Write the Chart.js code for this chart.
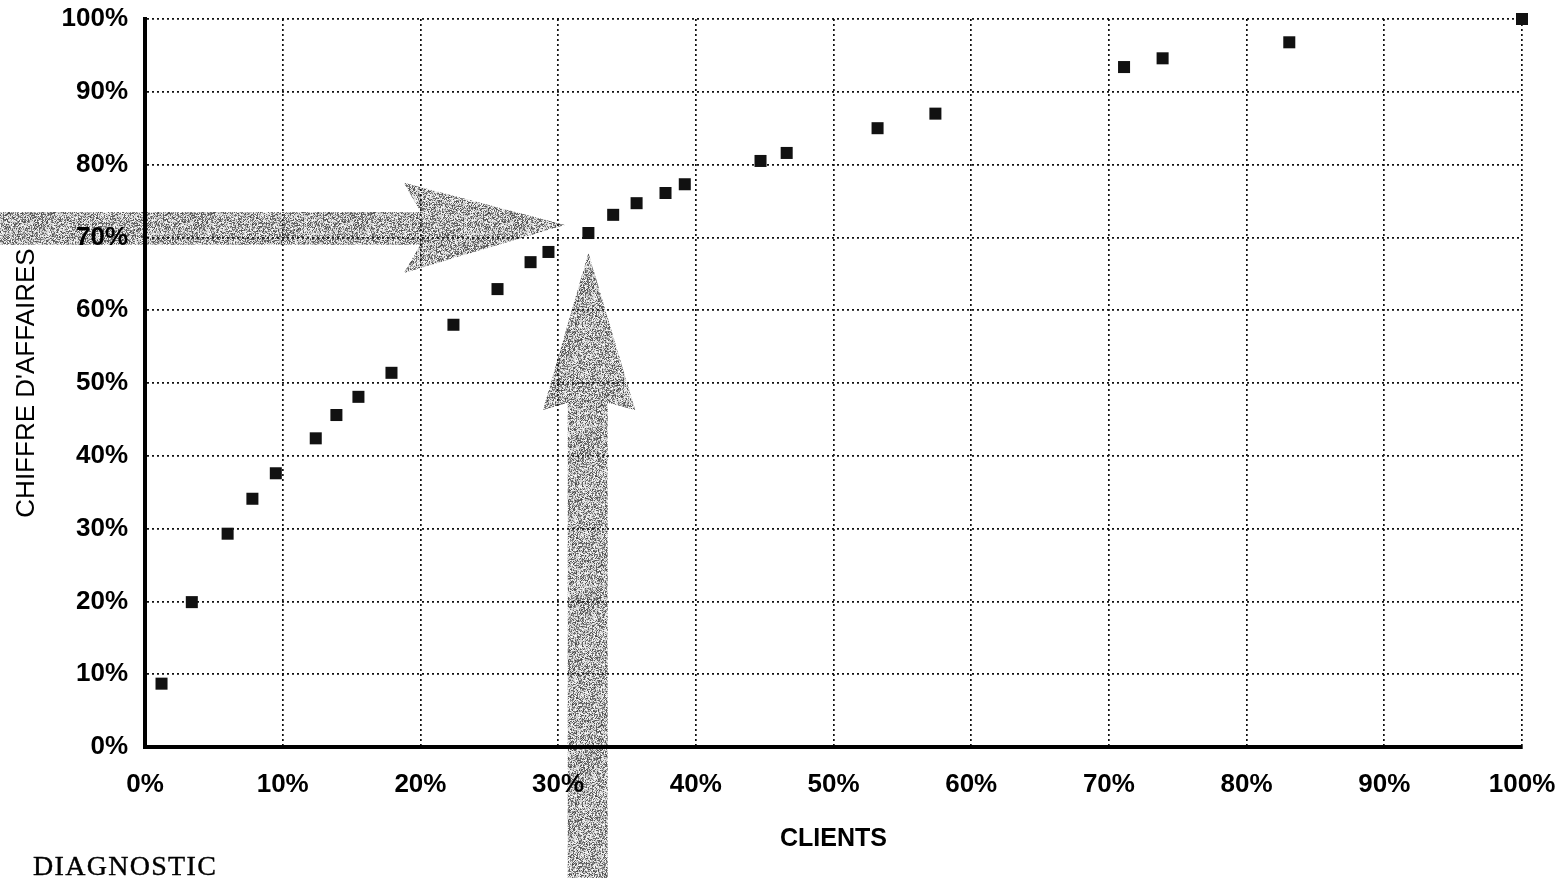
<!DOCTYPE html>
<html>
<head>
<meta charset="utf-8">
<script src="https://cdn.jsdelivr.net/npm/chart.js@4/dist/chart.umd.min.js"></script>
<style>
  body { margin: 0; background: #fff; }
  #wrap { position: relative; width: 1566px; height: 878px; }
  #diag {
    position: absolute; left: 33px; top: 850px;
    font-family: "Liberation Serif", "DejaVu Serif", serif;
    font-size: 28px; letter-spacing: 1.3px; color: #000;
    -webkit-text-stroke: 0.4px #000;
  }
</style>
</head>
<body>
<div id="wrap">
  <canvas id="chart" width="1566" height="878"></canvas>
  <div id="diag">DIAGNOSTIC</div>
</div>
<script>
// % of clients (cumulative) vs % of turnover (cumulative)
const clientsPct = [1.2, 3.4, 6.0, 7.8, 9.5, 12.4, 13.9, 15.5, 17.9, 22.4, 25.6, 28.0, 29.3,
                    32.2, 34.0, 35.7, 37.8, 39.2, 44.7, 46.6, 53.2, 57.4, 71.1, 73.9, 83.1, 100];
const caPct = [8.7, 19.9, 29.3, 34.1, 37.6, 42.4, 45.6, 48.1, 51.4, 58.0, 62.9, 66.6, 68.0,
               70.6, 73.1, 74.7, 76.1, 77.3, 80.5, 81.6, 85.0, 87.0, 93.4, 94.6, 96.8, 100];
const tickValues = [0, 10, 20, 30, 40, 50, 60, 70, 80, 90, 100];

// the two grey arrows, in axis units
const hArrow = { neck: 20.0, back: 18.8, tipX: 30.5, tipY: 71.7,
                 shaftTop: 73.5, shaftBottom: 69.0, headTop: 77.5, headBottom: 65.1 };
const vArrow = { tipX: 32.2, tipY: 67.9, barbY: 46.3, neckY: 47.3,
                 barbLeft: 28.9, barbRight: 35.6, shaftLeft: 30.7, shaftRight: 33.6 };

function makeNoise() {
    // speckled grey like a photocopied screen tone (fixed seed)
    const c = document.createElement('canvas');
    c.width = 160; c.height = 160;
    const g = c.getContext('2d');
    const img = g.createImageData(160, 160);
    let s = 12345;
    const rnd = () => { s = (s * 1103515245 + 12345) & 0x7fffffff; return s / 0x7fffffff; };
    for (let i = 0; i < img.data.length; i += 4) {
        const v = rnd() < 0.42 ? 70 + rnd() * 80 : 185 + rnd() * 70;
        img.data[i] = img.data[i + 1] = img.data[i + 2] = v;
        img.data[i + 3] = 255;
    }
    g.putImageData(img, 0, 0);
    return c;
}

const arrowPlugin = {
    id: 'arrows',
    beforeDraw(chart) {
        const { ctx, scales: { x, y } } = chart;
        const px = v => x.getPixelForValue(v);
        const py = v => y.getPixelForValue(v);
        ctx.save();
        ctx.fillStyle = ctx.createPattern(makeNoise(), 'repeat');

        ctx.beginPath();
        ctx.moveTo(0, py(hArrow.shaftTop));
        ctx.lineTo(px(hArrow.neck), py(hArrow.shaftTop));
        ctx.lineTo(px(hArrow.back), py(hArrow.headTop));
        ctx.lineTo(px(hArrow.tipX), py(hArrow.tipY));
        ctx.lineTo(px(hArrow.back), py(hArrow.headBottom));
        ctx.lineTo(px(hArrow.neck), py(hArrow.shaftBottom));
        ctx.lineTo(0, py(hArrow.shaftBottom));
        ctx.closePath();
        ctx.fill();

        ctx.beginPath();
        ctx.moveTo(px(vArrow.shaftLeft), chart.height);
        ctx.lineTo(px(vArrow.shaftLeft), py(vArrow.neckY));
        ctx.lineTo(px(vArrow.barbLeft), py(vArrow.barbY));
        ctx.lineTo(px(vArrow.tipX), py(vArrow.tipY));
        ctx.lineTo(px(vArrow.barbRight), py(vArrow.barbY));
        ctx.lineTo(px(vArrow.shaftRight), py(vArrow.neckY));
        ctx.lineTo(px(vArrow.shaftRight), chart.height);
        ctx.closePath();
        ctx.fill();
        ctx.restore();
    }
};

const tickFont = { family: '"Liberation Sans", Arial, sans-serif', size: 26, weight: 'bold' };

new Chart(document.getElementById('chart'), {
    type: 'scatter',
    data: {
        datasets: [{
            data: clientsPct.map((v, i) => ({ x: v, y: caPct[i] })),
            pointStyle: 'rect',
            pointRadius: 8.5,
            pointBackgroundColor: '#111',
            pointBorderWidth: 0,
            clip: false
        }]
    },
    options: {
        responsive: false,
        animation: false,
        devicePixelRatio: 1,
        layout: { padding: { top: 19, right: 44, left: 0, bottom: 0 } },
        plugins: { legend: { display: false }, tooltip: { enabled: false } },
        scales: {
            x: {
                type: 'linear', min: 0, max: 100,
                afterBuildTicks: s => { s.ticks = tickValues.map(v => ({ value: v })); },
                afterFit: s => { s.height = 131; s.paddingLeft = 0; s.paddingRight = 0; },
                grid: { color: '#111', lineWidth: 1.7, drawTicks: false },
                border: { color: '#000', width: 4, dash: [2, 3] },
                ticks: { color: '#000', font: tickFont, padding: 22, maxRotation: 0,
                         callback: v => v + '%' },
                title: { display: true, text: 'CLIENTS', color: '#000',
                         font: { family: '"Liberation Sans", Arial, sans-serif', size: 25, weight: 'bold' },
                         padding: { top: 0, bottom: 24 } }
            },
            y: {
                type: 'linear', min: 0, max: 100,
                afterBuildTicks: s => { s.ticks = tickValues.map(v => ({ value: v })); },
                afterFit: s => { s.width = 145; s.paddingTop = 0; s.paddingBottom = 0; },
                grid: { color: '#111', lineWidth: 1.7, drawTicks: false },
                border: { color: '#000', width: 4, dash: [2, 3] },
                ticks: { color: '#000', font: tickFont, padding: 17,
                         callback: v => v + '%' },
                title: { display: true, text: "CHIFFRE D'AFFAIRES", color: '#000',
                         font: { family: '"Liberation Sans", Arial, sans-serif', size: 26 },
                         padding: { top: 11, bottom: 0 } }
            }
        }
    },
    plugins: [arrowPlugin]
});
</script>
</body>
</html>
